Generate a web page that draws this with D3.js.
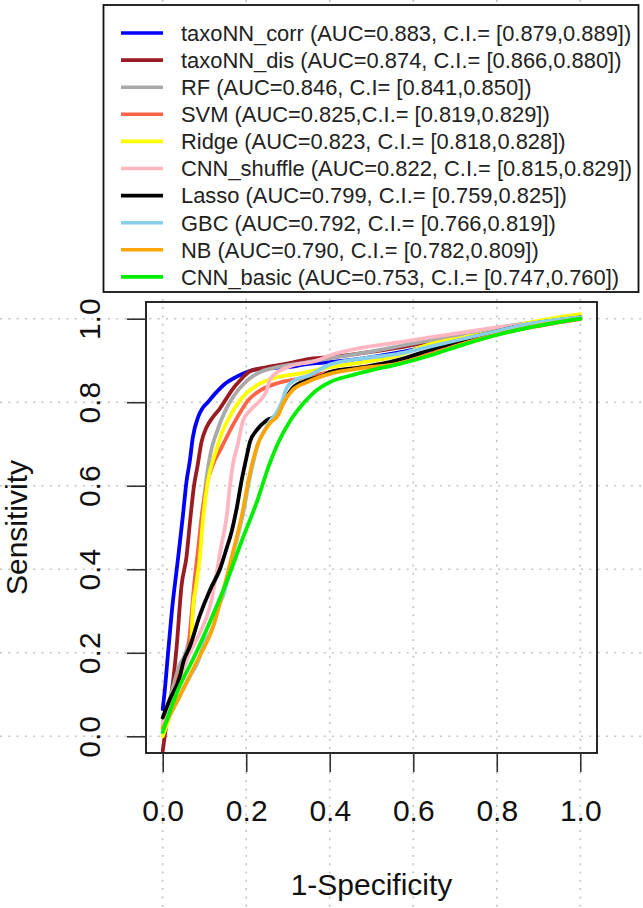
<!DOCTYPE html>
<html><head><meta charset="utf-8">
<script src="https://cdn.jsdelivr.net/npm/d3@7"></script>
<style>body{margin:0;background:#fff}svg{display:block}</style>
</head><body>
<svg id="chart" width="643" height="908"></svg>
<script>
// ---------- data ----------
const seriesNames = ["taxoNN_corr","taxoNN_dis","RF","SVM","Ridge","CNN_shuffle","Lasso","GBC","NB","CNN_basic"];
const legendLabels = [
  "taxoNN_corr (AUC=0.883, C.I.= [0.879,0.889])",
  "taxoNN_dis (AUC=0.874, C.I.= [0.866,0.880])",
  "RF (AUC=0.846, C.I= [0.841,0.850])",
  "SVM (AUC=0.825,C.I.= [0.819,0.829])",
  "Ridge (AUC=0.823, C.I.= [0.818,0.828])",
  "CNN_shuffle (AUC=0.822, C.I.= [0.815,0.829])",
  "Lasso (AUC=0.799, C.I.= [0.759,0.825])",
  "GBC (AUC=0.792, C.I.= [0.766,0.819])",
  "NB (AUC=0.790, C.I.= [0.782,0.809])",
  "CNN_basic (AUC=0.753, C.I.= [0.747,0.760])"
];
const seriesColors = ["#0000ff","#9b1b22","#a9a9a9","#ff6347","#ffff00","#ffb6c1","#000000","#87ceeb","#ffa500","#00ee00"];

// [1-specificity, sensitivity]
const taxoNN_corr = [[0,0.065],[0.005,0.11],[0.012,0.19],[0.022,0.30],[0.036,0.42],[0.048,0.525],[0.057,0.61],[0.065,0.66],[0.072,0.715],[0.085,0.765],[0.095,0.785],[0.108,0.80],[0.125,0.82],[0.15,0.845],[0.175,0.86],[0.2,0.872],[0.24,0.881],[0.3,0.884],[0.35,0.892],[0.4,0.896],[0.48,0.905],[0.56,0.918],[0.64,0.935],[0.72,0.955],[0.8,0.972],[0.88,0.988],[1,1.004]];
const taxoNN_dis = [[0,-0.035],[0.012,0.05],[0.022,0.11],[0.033,0.21],[0.045,0.36],[0.057,0.43],[0.066,0.52],[0.075,0.60],[0.083,0.645],[0.093,0.705],[0.105,0.74],[0.12,0.764],[0.137,0.785],[0.15,0.805],[0.165,0.828],[0.185,0.852],[0.209,0.874],[0.25,0.884],[0.3,0.893],[0.36,0.905],[0.4,0.908],[0.48,0.918],[0.56,0.93],[0.64,0.945],[0.72,0.96],[0.8,0.975],[0.88,0.99],[1,1.0]];
const RF = [[0,0.03],[0.02,0.1],[0.04,0.17],[0.055,0.2],[0.068,0.26],[0.075,0.33],[0.085,0.43],[0.095,0.53],[0.105,0.62],[0.115,0.68],[0.13,0.73],[0.15,0.78],[0.17,0.815],[0.2,0.85],[0.235,0.873],[0.28,0.885],[0.33,0.893],[0.4,0.905],[0.48,0.918],[0.56,0.933],[0.64,0.948],[0.72,0.962],[0.8,0.978],[0.88,0.99],[1,1.0]];
const SVM = [[0,0.02],[0.02,0.08],[0.04,0.15],[0.06,0.2],[0.068,0.28],[0.075,0.36],[0.085,0.45],[0.095,0.54],[0.105,0.6],[0.12,0.65],[0.14,0.69],[0.155,0.72],[0.168,0.745],[0.185,0.775],[0.205,0.805],[0.233,0.828],[0.273,0.845],[0.33,0.857],[0.4,0.872],[0.48,0.884],[0.56,0.892],[0.64,0.916],[0.72,0.943],[0.8,0.963],[0.88,0.979],[1,0.999]];
const Ridge = [[0,0],[0.017,0.048],[0.033,0.11],[0.045,0.16],[0.057,0.19],[0.068,0.22],[0.072,0.30],[0.08,0.36],[0.088,0.42],[0.097,0.525],[0.108,0.61],[0.12,0.66],[0.13,0.69],[0.141,0.725],[0.155,0.755],[0.177,0.793],[0.2,0.821],[0.228,0.842],[0.264,0.857],[0.33,0.869],[0.4,0.884],[0.48,0.896],[0.56,0.911],[0.64,0.939],[0.72,0.955],[0.8,0.97],[0.88,0.991],[1,1.011]];
const CNN_shuffle = [[0,0.03],[0.02,0.09],[0.045,0.15],[0.065,0.2],[0.09,0.25],[0.113,0.31],[0.129,0.39],[0.141,0.46],[0.153,0.525],[0.161,0.6],[0.168,0.65],[0.18,0.70],[0.192,0.755],[0.209,0.78],[0.233,0.804],[0.249,0.828],[0.257,0.855],[0.297,0.883],[0.369,0.9],[0.4,0.912],[0.48,0.931],[0.56,0.943],[0.64,0.955],[0.72,0.967],[0.8,0.979],[0.88,0.987],[1,1.003]];
const Lasso = [[0,0.045],[0.017,0.088],[0.041,0.143],[0.05,0.18],[0.065,0.215],[0.089,0.29],[0.113,0.35],[0.137,0.40],[0.153,0.45],[0.165,0.49],[0.177,0.545],[0.189,0.613],[0.2,0.665],[0.209,0.705],[0.225,0.733],[0.249,0.757],[0.273,0.768],[0.288,0.797],[0.312,0.835],[0.345,0.852],[0.384,0.864],[0.4,0.872],[0.48,0.884],[0.56,0.9],[0.64,0.925],[0.72,0.95],[0.8,0.97],[0.88,0.987],[1,1.003]];
const GBC = [[0,0.017],[0.033,0.081],[0.065,0.143],[0.089,0.19],[0.096,0.215],[0.12,0.26],[0.137,0.32],[0.144,0.334],[0.168,0.435],[0.18,0.48],[0.192,0.53],[0.209,0.62],[0.218,0.66],[0.228,0.70],[0.24,0.725],[0.257,0.755],[0.273,0.775],[0.287,0.805],[0.297,0.835],[0.321,0.855],[0.345,0.862],[0.4,0.89],[0.48,0.905],[0.56,0.915],[0.64,0.933],[0.72,0.952],[0.8,0.97],[0.88,0.988],[1,1.003]];
const NB = [[0,0.02],[0.035,0.085],[0.065,0.145],[0.09,0.195],[0.12,0.26],[0.14,0.33],[0.168,0.44],[0.19,0.53],[0.205,0.61],[0.215,0.655],[0.228,0.70],[0.24,0.725],[0.257,0.75],[0.277,0.77],[0.29,0.8],[0.312,0.83],[0.345,0.848],[0.4,0.868],[0.48,0.882],[0.56,0.892],[0.64,0.914],[0.72,0.94],[0.8,0.962],[0.88,0.98],[1,1.0]];
const CNN_basic = [[0,0.01],[0.034,0.105],[0.08,0.2],[0.12,0.29],[0.155,0.375],[0.19,0.47],[0.225,0.56],[0.255,0.65],[0.28,0.71],[0.305,0.755],[0.335,0.795],[0.37,0.83],[0.40,0.848],[0.45,0.864],[0.5,0.877],[0.56,0.89],[0.64,0.912],[0.72,0.938],[0.8,0.961],[0.88,0.979],[1,1.0]];
const seriesValues = [taxoNN_corr, taxoNN_dis, RF, SVM, Ridge, CNN_shuffle, Lasso, GBC, NB, CNN_basic];

const xTicks = [0, 0.2, 0.4, 0.6, 0.8, 1.0];
const yTicks = [0, 0.2, 0.4, 0.6, 0.8, 1.0];
const xTitle = "1-Specificity";
const yTitle = "Sensitivity";

// ---------- layout ----------
const W = 643, H = 908;
const L = 146, R = 597, T = 302, B = 753;
const FONT = "'Liberation Sans', Arial, Helvetica, sans-serif";
const svg = d3.select("#chart");
svg.append("rect").attr("width", W).attr("height", H).attr("fill", "#fff");

const x = d3.scaleLinear().domain([-0.04, 1.04]).range([L, R]);
const y = d3.scaleLinear().domain([-0.04, 1.04]).range([B, T]);

// grid (dotted, spans whole figure)
const grid = svg.append("g").attr("stroke", "#c4c4c4").attr("stroke-width", 1.6).attr("stroke-dasharray", "2,6.3");
grid.selectAll(".gx").data(xTicks).join("line")
  .attr("x1", d => x(d)).attr("x2", d => x(d)).attr("y1", 0).attr("y2", H);
grid.selectAll(".gy").data(yTicks).join("line")
  .attr("y1", d => y(d)).attr("y2", d => y(d)).attr("x1", 0).attr("x2", W);

// curves
svg.append("clipPath").attr("id", "clip").append("rect")
  .attr("x", L).attr("y", T).attr("width", R - L).attr("height", B - T);
const line = d3.line().x(d => x(d[0])).y(d => y(d[1])).curve(d3.curveMonotoneX);
svg.append("g").attr("clip-path", "url(#clip)")
  .selectAll("path").data(seriesValues).join("path")
  .attr("d", line).attr("fill", "none")
  .attr("stroke", (d, i) => seriesColors[i])
  .attr("stroke-width", 3.8).attr("stroke-linejoin", "round").attr("stroke-linecap", "round");

// plot box
svg.append("rect").attr("x", L).attr("y", T).attr("width", R - L).attr("height", B - T)
  .attr("fill", "none").attr("stroke", "#111").attr("stroke-width", 1.8);

// x axis
const xAxis = svg.append("g").attr("transform", `translate(0,${B})`)
  .call(d3.axisBottom(x).tickValues(xTicks).tickFormat(d3.format(".1f")).tickSize(19).tickPadding(28));
xAxis.select(".domain").remove();
xAxis.selectAll("line").attr("stroke", "#333").attr("stroke-width", 1.6);
xAxis.selectAll("text").attr("font-family", FONT).attr("font-size", 30).attr("fill", "#111");

// y axis
const yAxis = svg.append("g").attr("transform", `translate(${L},0)`)
  .call(d3.axisLeft(y).tickValues(yTicks).tickFormat(d3.format(".1f")).tickSize(19));
yAxis.select(".domain").remove();
yAxis.selectAll("line").attr("stroke", "#333").attr("stroke-width", 1.6);
yAxis.selectAll("text").attr("font-family", FONT).attr("font-size", 30).attr("fill", "#111")
  .attr("x", null).attr("dy", null).attr("text-anchor", "middle")
  .attr("transform", `translate(${100 - L},0) rotate(-90)`);

// titles
svg.append("text").attr("x", (L + R) / 2).attr("y", 895).attr("text-anchor", "middle")
  .attr("font-family", FONT).attr("font-size", 30).attr("fill", "#111").text(xTitle);
svg.append("text").attr("transform", `translate(27,${(T + B) / 2}) rotate(-90)`).attr("text-anchor", "middle")
  .attr("font-family", FONT).attr("font-size", 30).attr("fill", "#111").text(yTitle);

// legend
const lg = svg.append("g");
lg.append("rect").attr("x", 103.5).attr("y", 5).attr("width", 535).attr("height", 287)
  .attr("fill", "#fff").attr("stroke", "#111").attr("stroke-width", 1.8);
const rowY = i => 33 + i * 27.1;
lg.selectAll(".ll").data(legendLabels).join("line")
  .attr("x1", 121).attr("x2", 163).attr("y1", (d, i) => rowY(i)).attr("y2", (d, i) => rowY(i))
  .attr("stroke", (d, i) => seriesColors[i]).attr("stroke-width", 3.6);
lg.selectAll(".lt").data(legendLabels).join("text")
  .attr("x", 181).attr("y", (d, i) => rowY(i) + 7.8)
  .attr("font-family", FONT).attr("font-size", 21.9).attr("fill", "#222").text(d => d);
</script>
</body></html>
